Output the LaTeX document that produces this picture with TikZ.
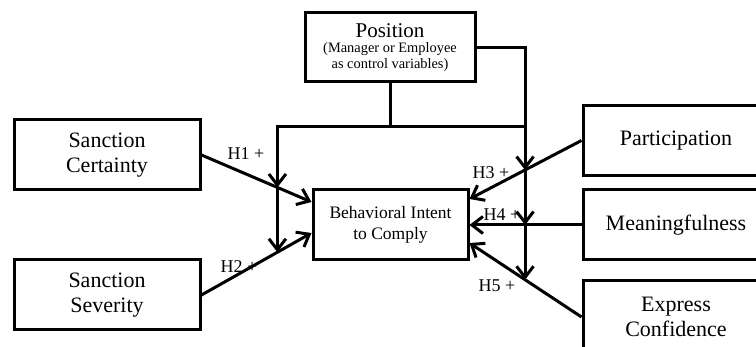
\documentclass[tikz,border=0pt]{standalone}
\usepackage{fontspec}
\setmainfont{Liberation Serif}
\usetikzlibrary{arrows.meta,calc}

\begin{document}
\begin{tikzpicture}[
x=0.5pt,
y=-0.5pt,
every node/.style={font=\fontsize{11}{12.5}\selectfont},
construct/.style={rectangle,draw,line width=1.5pt,align=center,inner sep=2pt,minimum width=93pt,minimum height=35pt},
outcome/.style={rectangle,draw,line width=1.5pt,align=center,inner sep=2pt,minimum width=77.5pt,minimum height=35pt,font=\fontsize{8.75}{10.8}\selectfont},
control/.style={rectangle,draw,line width=1.5pt,align=center,inner sep=2pt,minimum width=85pt,minimum height=34.5pt,font=\fontsize{7.2}{7.6}\selectfont},
arr/.style={-{Straight Barb[length=5.5pt,width=8.5pt]},line width=1.5pt},
link/.style={line width=1.1pt},
hyp/.style={font=\fontsize{9}{10}\selectfont,inner sep=1pt}
]
\path[use as bounding box,clip] (0,0) rectangle (756,347);

\node[control] (position) at (390,47.5) {{\fontsize{10.5}{12}\selectfont Position}\\(Manager or Employee\\as control variables)};
\node[construct] (certainty) at (107,155) {Sanction\\Certainty};
\node[construct] (severity) at (107,295) {Sanction\\Severity};
\node[outcome] (intent) at (390.5,225) {Behavioral Intent\\to Comply};
\node[construct] (particip) at (676,140.5) {Participation};
\node[construct] (meaning) at (676,225) {Meaningfulness};
\node[construct,minimum height=36pt] (confid) at (676,317) {Express\\Confidence};

\node[hyp] (h1) at (246,154) {H1 +};
\node[hyp] (h2) at (239,267) {H2 +};
\node[hyp] (h3) at (491,173) {H3 +};
\node[hyp] (h4) at (502,215) {H4 +};
\node[hyp] (h5) at (497,286) {H5 +};

\coordinate (h1end) at ($(intent.west)+(0,-23)$);
\coordinate (h2end) at ($(intent.west)+(0,8)$);
\coordinate (h3end) at ($(intent.east)+(0,-26)$);
\coordinate (h5end) at ($(intent.east)+(0,18)$);
\coordinate (m1) at ($(certainty.east)!0.69!(h1end)$);
\coordinate (m2) at ($(severity.east)!0.69!(h2end)$);
\coordinate (m3) at ($(particip.west)!0.504!(h3end)$);
\coordinate (m4) at (m3 |- meaning.west);
\coordinate (m5) at ($(confid.west)!0.504!(h5end)$);
\coordinate (split) at ($(position.south)+(0,43)$);
\coordinate (leftbar) at (m1 |- split);
\coordinate (rightbar) at (m3 |- split);

\draw[arr] (certainty.east) -- (h1end);
\draw[arr] (severity.east) -- (h2end);
\draw[arr] (particip.west) -- (h3end);
\draw[arr] (meaning.west) -- (intent.east);
\draw[arr] (confid.west) -- (h5end);
\draw[arr] (position.south) -- (split) -- (leftbar) -- (m1);
\draw[arr] (m1) -- (m2);
\draw[link] (split) -- (rightbar);
\draw[arr] (position.east) -| (m3);
\draw[arr] (m3) -- (m4);
\draw[arr] (m4) -- (m5);
\end{tikzpicture}
\end{document}
